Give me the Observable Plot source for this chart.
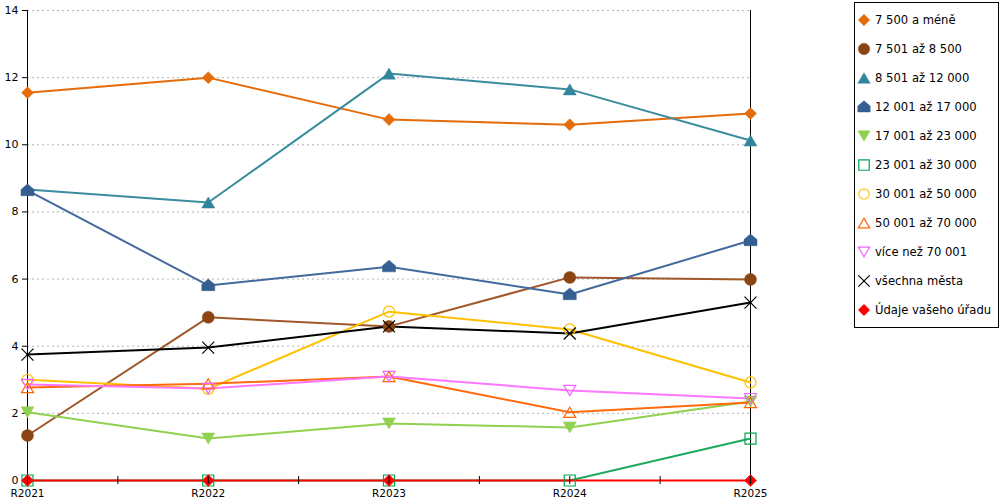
<!DOCTYPE html>
<html><head><meta charset="utf-8">
<script src="https://cdn.jsdelivr.net/npm/d3@7"></script>
<script src="https://cdn.jsdelivr.net/npm/@observablehq/plot@0.6"></script>
<style>
body{margin:0;background:#fff;font-family:"DejaVu Sans",sans-serif;}
#wrap{position:relative;width:1000px;height:500px;overflow:hidden;}
#legend{position:absolute;left:854px;top:2px;}
</style></head><body>
<div id="wrap"><div id="chart"></div><div id="legend"></div></div>
<script>
const years = ["R2021", "R2022", "R2023", "R2024", "R2025"];
const yTicks = [0, 2, 4, 6, 8, 10, 12, 14];

const names = ["7 500 a méně", "7 501 až 8 500", "8 501 až 12 000", "12 001 až 17 000",
  "17 001 až 23 000", "23 001 až 30 000", "30 001 až 50 000", "50 001 až 70 000",
  "více než 70 001", "všechna města", "Údaje vašeho úřadu"];

const s7500 = [11.55, 12.0, 10.75, 10.6, 10.93];
const s8500 = [1.34, 4.86, 4.59, 6.05, 5.99];
const s12000 = [8.67, 8.28, 12.12, 11.65, 10.13];
const s17000 = [8.64, 5.81, 6.37, 5.54, 7.15];
const s23000 = [2.03, 1.25, 1.70, 1.58, 2.35];
const s30000 = [0, 0, 0, 0, 1.25];
const s50000 = [3.0, 2.73, 5.03, 4.5, 2.92];
const s70000 = [2.77, 2.88, 3.1, 2.03, 2.32];
const sOver70 = [2.86, 2.74, 3.1, 2.68, 2.44];
const sAll = [3.75, 3.96, 4.59, 4.38, 5.3];
const sOffice = [0, 0, 0, null, 0];

const seriesValues = [s7500, s8500, s12000, s17000, s23000, s30000, s50000, s70000, sOver70, sAll, sOffice];
const lineColors = ["#E46C0A", "#A0582A", "#3A8C9E", "#426A9C", "#92D050", "#1DAA5E", "#FFC000", "#FF6A10", "#FF77FF", "#000000", "#FF0000"];
const markColors = ["#E46C0A", "#8B4513", "#31859C", "#365F91", "#92D050", "#00A650", "#FFC000", "#FF6600", "#EE66FF", "#000000", "#FF0000"];

function poly(pts) {
  return { draw(ctx, size) {
    const r = Math.sqrt(size / Math.PI);
    ctx.moveTo(pts[0][0] * r, pts[0][1] * r);
    for (let k = 1; k < pts.length; k++) ctx.lineTo(pts[k][0] * r, pts[k][1] * r);
    ctx.closePath();
  }};
}
const symDiamond = poly([[0, -1], [1, 0], [0, 1], [-1, 0]]);
const symTriUp = poly([[0, -0.85], [1, 0.85], [-1, 0.85]]);
const symTriDown = poly([[-1, -0.85], [1, -0.85], [0, 0.85]]);
const symHouse = poly([[0, -1], [1, -0.15], [1, 0.8], [-1, 0.8], [-1, -0.15]]);
const symSquare = poly([[-1, -1], [1, -1], [1, 1], [-1, 1]]);
const symTimes = { draw(ctx, size) {
  const r = Math.sqrt(size / Math.PI);
  ctx.moveTo(-r, -r); ctx.lineTo(r, r);
  ctx.moveTo(-r, r); ctx.lineTo(r, -r);
}};
const symCircle = { draw(ctx, size) {
  const r = Math.sqrt(size / Math.PI);
  ctx.moveTo(r, 0); ctx.arc(0, 0, r, 0, 2 * Math.PI);
}};

const markerSym = [symDiamond, symCircle, symTriUp, symHouse, symTriDown, symSquare, symCircle, symTriUp, symTriDown, symTimes, symDiamond];
const markerR = [6, 6, 6.5, 6.5, 6.5, 5.5, 5.5, 6, 6, 6, 6];
const markerFilled = [true, true, true, true, true, false, false, false, false, false, true];

const rows = [];
seriesValues.forEach((vals, i) => {
  vals.forEach((v, j) => {
    if (v != null) rows.push({ s: i, name: names[i], xi: j, year: years[j], value: v });
  });
});

const halfTicks = d3.range(0, years.length - 1 + 0.01, 0.5);

const marks = [
  Plot.gridY(yTicks.filter(d => d > 0), { stroke: "#b4b4b4", strokeOpacity: 1, strokeDasharray: "2,3" }),
  Plot.ruleX([0, years.length - 1], { stroke: "black", strokeWidth: 1 }),
  Plot.axisY(yTicks, { tickSize: 5, tickPadding: 4, label: null, fontSize: 11 }),
  Plot.axisX(d3.range(years.length), { tickSize: 0, tickPadding: 9, tickFormat: i => years[i], label: null, fontSize: 10.5 }),
  Plot.ruleY([0], { stroke: "black" })
];
seriesValues.forEach((vals, i) => {
  const d = rows.filter(r => r.s === i);
  marks.push(Plot.line(d, { x: "xi", y: "value", stroke: lineColors[i], strokeWidth: 2 }));
});
seriesValues.forEach((vals, i) => {
  const d = rows.filter(r => r.s === i);
  marks.push(Plot.dot(d, {
    x: "xi", y: "value", symbol: markerSym[i], r: markerR[i],
    fill: markerFilled[i] ? markColors[i] : "none",
    stroke: markColors[i], strokeWidth: markerFilled[i] ? 0.5 : 1.2
  }));
});
marks.push(Plot.ruleX(halfTicks, { y1: 0, y2: 0, insetTop: -4, insetBottom: -4, stroke: "black", strokeWidth: 1 }));

const chart = Plot.plot({
  width: 1000, height: 500,
  marginLeft: 27, marginRight: 250, marginTop: 10, marginBottom: 20,
  style: { fontFamily: "DejaVu Sans, sans-serif", fontSize: "11px", color: "black", background: "white" },
  x: { type: "linear", domain: [0, years.length - 1], axis: null },
  y: { domain: [0, 14], axis: null },
  marks
});
document.getElementById("chart").appendChild(chart);

// legend
const lw = 145, lh = 326;
const svg = d3.select("#legend").append("svg").attr("width", lw).attr("height", lh)
  .style("font-family", "DejaVu Sans, sans-serif").style("font-size", "11.6px");
svg.append("rect").attr("x", 0.5).attr("y", 0.5).attr("width", lw - 1).attr("height", lh - 1)
  .attr("fill", "white").attr("stroke", "black");
names.forEach((n, i) => {
  const cy = 18 + 29 * i;
  const g = svg.append("g").attr("transform", `translate(10,${cy})`);
  const r = markerR[i] * 0.95;
  g.append("path").attr("d", d3.symbol(markerSym[i], Math.PI * r * r)())
    .attr("fill", markerFilled[i] ? markColors[i] : "none")
    .attr("stroke", markColors[i]).attr("stroke-width", markerFilled[i] ? 0.5 : 1.2);
  svg.append("text").attr("x", 21).attr("y", cy).attr("dy", "0.35em").attr("fill", "black").text(n);
});
</script>
</body></html>
